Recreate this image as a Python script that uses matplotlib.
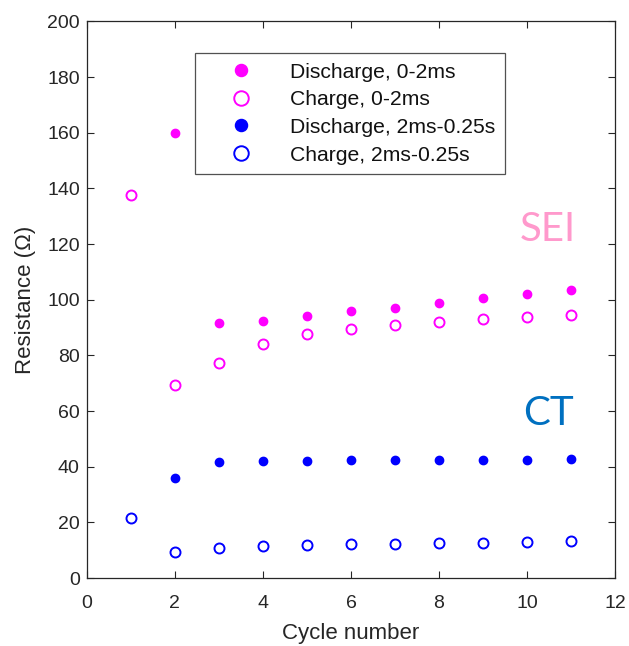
import matplotlib
matplotlib.use("Agg")
import matplotlib.pyplot as plt

plt.rcParams['font.family'] = ['Liberation Sans', 'DejaVu Sans']

cycles = [1, 2, 3, 4, 5, 6, 7, 8, 9, 10, 11]

# SEI (0-2 ms) resistance
sei_discharge_cycles = [2, 3, 4, 5, 6, 7, 8, 9, 10, 11]
sei_discharge = [160.0, 91.7, 92.4, 94.3, 96.0, 97.2, 98.9, 100.5, 101.9, 103.5]
sei_charge = [137.5, 69.2, 77.3, 84.1, 87.8, 89.6, 90.9, 92.1, 93.1, 93.9, 94.7]

# Charge-transfer (2 ms - 0.25 s) resistance
ct_discharge_cycles = [2, 3, 4, 5, 6, 7, 8, 9, 10, 11]
ct_discharge = [35.8, 41.8, 42.1, 42.2, 42.3, 42.4, 42.5, 42.5, 42.6, 42.7]
ct_charge = [21.5, 9.3, 10.9, 11.6, 11.9, 12.2, 12.4, 12.7, 12.8, 13.0, 13.4]

labels = ['Discharge, 0-2ms', 'Charge, 0-2ms',
          'Discharge, 2ms-0.25s', 'Charge, 2ms-0.25s']
magenta = '#FF00FF'
blue = '#0000FF'
text_grey = '#262626'

fig = plt.figure(figsize=(6.29, 6.46), dpi=100)
ax = fig.add_axes([0.138, 0.105, 0.840, 0.862])

ax.plot(sei_discharge_cycles, sei_discharge, 'o', color=magenta, ms=6,
        mec=magenta, mfc=magenta, label=labels[0])
ax.plot(cycles, sei_charge, 'o', color=magenta, ms=7.2, mec=magenta,
        mfc='none', mew=1.4, label=labels[1])
ax.plot(ct_discharge_cycles, ct_discharge, 'o', color=blue, ms=6,
        mec=blue, mfc=blue, label=labels[2])
ax.plot(cycles, ct_charge, 'o', color=blue, ms=7.2, mec=blue,
        mfc='none', mew=1.4, label=labels[3])

ax.set_xlim(0, 12)
ax.set_ylim(0, 200)
ax.set_xticks(range(0, 13, 2))
ax.set_yticks(range(0, 201, 20))
ax.tick_params(direction='in', top=True, right=True, length=5,
               width=0.8, labelsize=14, colors=text_grey)
ax.tick_params(axis='x', pad=12)
ax.tick_params(axis='y', pad=5)
for s in ax.spines.values():
    s.set_color('#262626')
    s.set_linewidth(0.9)

ax.set_xlabel('Cycle number', fontsize=16, color=text_grey, labelpad=8)
ax.set_ylabel('Resistance (Ω)', fontsize=16, color=text_grey, labelpad=8)

leg = ax.legend(loc='upper left', bbox_to_anchor=(0.2045, 0.943),
                borderaxespad=0, fontsize=15.2, frameon=True, fancybox=False,
                edgecolor='#262626', markerscale=1.45, handletextpad=0.55,
                labelspacing=0.41, borderpad=0.45, handlelength=3.5)
leg.get_frame().set_linewidth(0.9)
for t in leg.get_texts():
    t.set_color('#111111')

ax.text(10.48, 125.4, 'SEI', color='#FF99CC', fontsize=29,
        family=['Lato', 'DejaVu Sans'], ha='center', va='center')
ax.text(10.48, 59.1, 'CT', color='#0070C0', fontsize=29,
        family=['Lato', 'DejaVu Sans'], ha='center', va='center')

fig.savefig('out.png', dpi=100)
